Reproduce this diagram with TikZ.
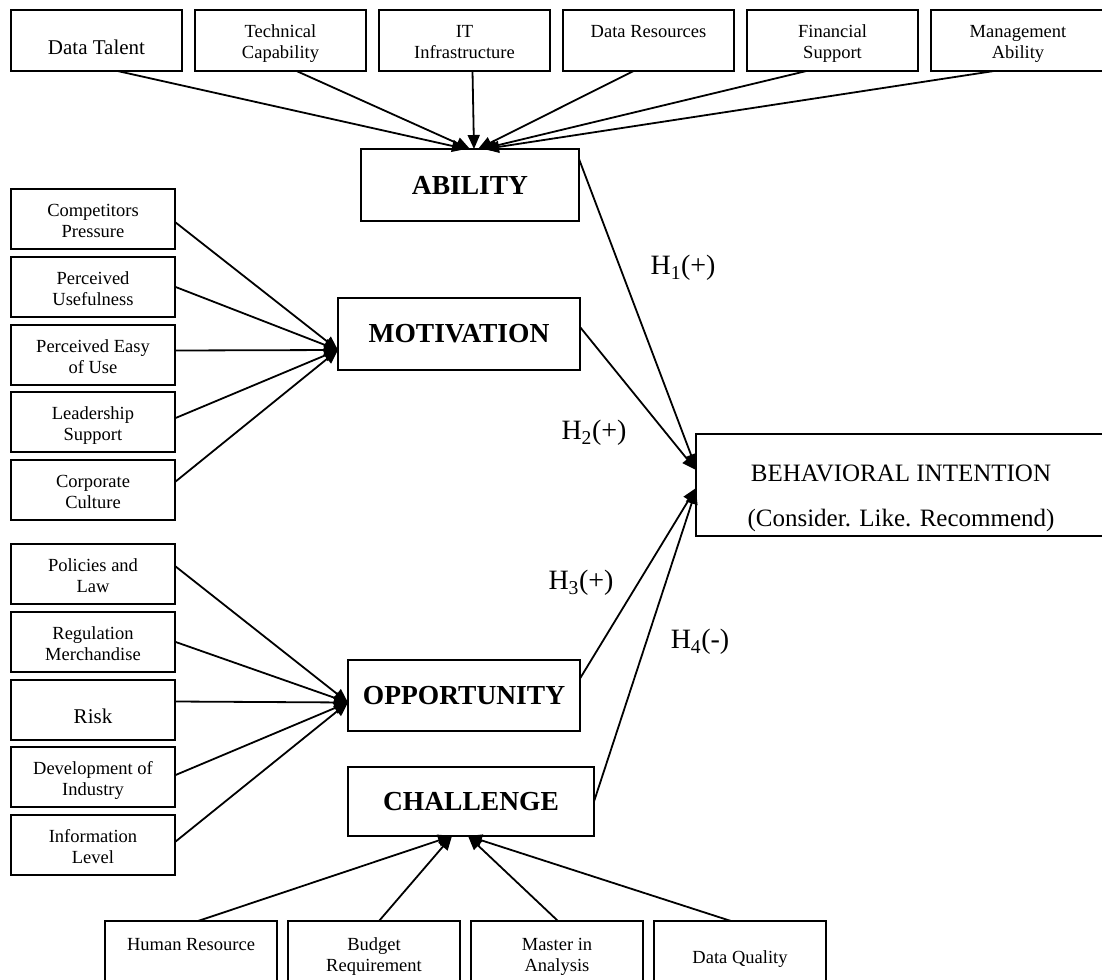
\documentclass[tikz,border=0pt]{standalone}
\usepackage{fontspec}
\setmainfont{Liberation Serif}
\usetikzlibrary{arrows.meta,positioning}
\tikzset{
  factor/.style={rectangle,draw,line width=2pt,outer sep=0pt,inner sep=2pt,
    minimum width=171pt,minimum height=61pt,align=center,
    text height=42pt,text depth=5pt,
    font=\fontsize{18.5}{21}\selectfont},
  sidefactor/.style={factor,minimum width=164pt,minimum height=60pt},
  basefactor/.style={factor,minimum width=172pt,minimum height=64pt},
  single/.style={text height=33pt,text depth=5pt,font=\fontsize{21}{24}\selectfont},
  construct/.style={rectangle,draw,line width=2pt,outer sep=0pt,
    font=\fontsize{27.5}{32}\selectfont\bfseries},
  hyp/.style={font=\fontsize{28}{32}\selectfont},
  arr/.style={-{Triangle[length=14pt,width=12pt]},line width=1.8pt}
}

\begin{document}
\begin{tikzpicture}[x=1pt,y=-1pt]
  \useasboundingbox (0,0) rectangle (1102,979);
  % ability factors along the top
  \node[factor, single] (dt) at (96.5,40.5) {Data Talent};
  \node[factor, right=13pt of dt] (tc) {Technical\\Capability};
  \node[factor, right=13pt of tc] (it) {IT\\Infrastructure};
  \node[factor, right=13pt of it] (dr) {Data Resources\\\strut};
  \node[factor, right=13pt of dr] (fs) {Financial\\Support};
  \node[factor, minimum width=174pt, right=13pt of fs] (ma) {Management\\Ability};
  % motivation factors
  \node[sidefactor] (cp) at (93,219) {Competitors\\Pressure};
  \node[sidefactor, below=7.75pt of cp] (pu) {Perceived\\Usefulness};
  \node[sidefactor, below=7.75pt of pu] (pe) {Perceived Easy\\of Use};
  \node[sidefactor, below=7.75pt of pe] (ls) {Leadership\\Support};
  \node[sidefactor, below=7.75pt of ls] (cc) {Corporate\\Culture};
  % opportunity factors
  \node[sidefactor, below=24pt of cc] (pl) {Policies and\\Law};
  \node[sidefactor, below=7.75pt of pl] (rm) {Regulation\\Merchandise};
  \node[sidefactor, single, below=7.75pt of rm] (rk) {Risk};
  \node[sidefactor, below=7.75pt of rk] (di) {Development of\\Industry};
  \node[sidefactor, below=7.75pt of di] (il) {Information\\Level};
  % challenge factors along the bottom
  \node[basefactor] (hr) at (191,953) {Human Resource\\\strut};
  \node[basefactor, right=11pt of hr] (br) {Budget\\Requirement};
  \node[basefactor, right=11pt of br] (mi) {Master in\\Analysis};
  \node[basefactor, text height=25pt, right=11pt of mi] (dq) {Data Quality};
  % constructs
  \node[construct, minimum width=218pt, minimum height=72pt] (ab) at (470,185) {ABILITY};
  \node[construct, minimum width=242pt, minimum height=72pt] (mo) at (459,334) {MOTIVATION};
  \node[construct, minimum width=232pt, minimum height=71pt] (op) at (464,695.5) {OPPORTUNITY};
  \node[construct, minimum width=246pt, minimum height=69pt] (ch) at (471,801.5) {CHALLENGE};
  \node[rectangle, draw, line width=2pt, outer sep=0pt, minimum width=410pt,
    minimum height=102pt, align=center, text height=88pt,
    font=\fontsize{25}{45}\selectfont] (bi) at (901,485)
    {BEHAVIORAL INTENTION\\(Consider. Like. Recommend)};
  % hypotheses
  \node[hyp] (h1) at (683,268) {H\textsubscript{1}(+)};
  \node[hyp] (h2) at (594,433) {H\textsubscript{2}(+)};
  \node[hyp] (h3) at (581,583) {H\textsubscript{3}(+)};
  \node[hyp] (h4) at (700,642) {H\textsubscript{4}(-)};

  \draw[arr] ([xshift=21pt]dt.south) -- ([xshift=-4pt]ab.north);
  \draw[arr] ([xshift=16pt]tc.south) -- (ab.north);
  \draw[arr] ([xshift=8pt]it.south) -- ([xshift=4pt]ab.north);
  \draw[arr] ([xshift=-15pt]dr.south) -- ([xshift=8pt]ab.north);
  \draw[arr] ([xshift=-26pt]fs.south) -- ([xshift=12pt]ab.north);
  \draw[arr] ([xshift=-24pt]ma.south) -- ([xshift=15pt]ab.north);

  \draw[arr] ([yshift=-3pt]cp.east) -- ([yshift=-16pt]mo.west);
  \draw[arr] (pu.east) -- ([yshift=-16pt]mo.west);
  \draw[arr] ([yshift=4pt]pe.east) -- ([yshift=-16pt]mo.west);
  \draw[arr] ([yshift=4pt]ls.east) -- ([yshift=-16pt]mo.west);
  \draw[arr] ([yshift=8pt]cc.east) -- ([yshift=-16pt]mo.west);

  \draw[arr] ([yshift=8pt]pl.east) -- ([yshift=-7pt]op.west);
  \draw[arr] (rm.east) -- ([yshift=-7pt]op.west);
  \draw[arr] ([yshift=8pt]rk.east) -- ([yshift=-7pt]op.west);
  \draw[arr] ([yshift=2pt]di.east) -- ([yshift=-7pt]op.west);
  \draw[arr] ([yshift=3pt]il.east) -- ([yshift=-7pt]op.west);

  \draw[arr] ([xshift=7pt]hr.north) -- ([xshift=-19pt]ch.south);
  \draw[arr] ([xshift=5pt]br.north) -- ([xshift=-19pt]ch.south);
  \draw[arr] ([xshift=1pt]mi.north) -- ([xshift=-3pt]ch.south);
  \draw[arr] ([xshift=-9pt]dq.north) -- ([xshift=-3pt]ch.south);

  \draw[arr] ([yshift=-10pt]ab.north east) -- ([yshift=17pt]bi.west);
  \draw[arr] ([yshift=7pt]mo.east) -- ([yshift=15pt]bi.west);
  \draw[arr] ([yshift=17pt]op.east) -- ([yshift=-3pt]bi.west);
  \draw[arr] (ch.east) -- ([yshift=-5pt]bi.west);
\end{tikzpicture}
\end{document}
